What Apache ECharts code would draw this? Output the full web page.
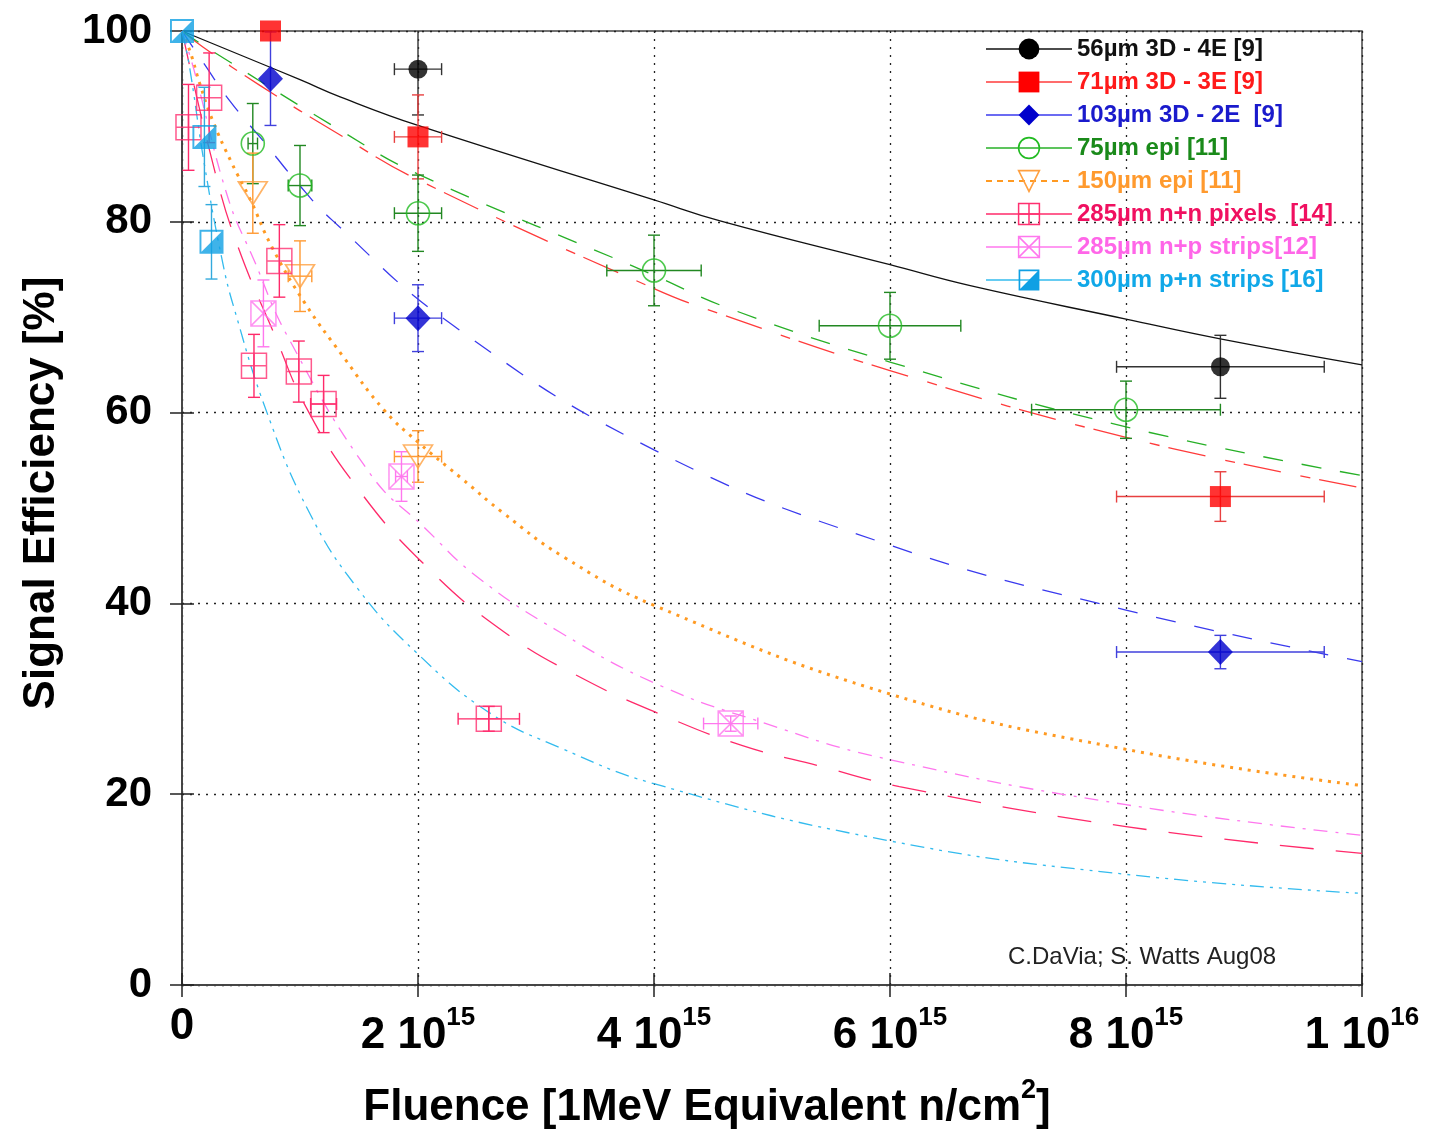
<!DOCTYPE html>
<html>
<head>
<meta charset="utf-8">
<title>Signal efficiency vs fluence</title>
<script src="https://cdn.jsdelivr.net/npm/echarts@6/dist/echarts.min.js"></script>
<style>
  html, body { margin: 0; padding: 0; background: #fff; }
  #chart { width: 1429px; height: 1129px; }
</style>
</head>
<body>
<div id="chart"></div>
<script>
// fluence is in units of 1e15 n/cm2, efficiency in %
const names = [
  '56µm 3D - 4E [9]',
  '71µm 3D - 3E [9]',
  '103µm 3D - 2E  [9]',
  '75µm epi [11]',
  '150µm epi [11]',
  '285µm n+n pixels  [14]',
  '285µm n+p strips[12]',
  '300µm p+n strips [16]'
]

// tick labels for the fluence axis: [mantissa, exponent]
const xTickLabels = [['0', ''], ['2 10', '15'], ['4 10', '15'], ['6 10', '15'], ['8 10', '15'], ['1 10', '16']]

// fit curves
const fit56 = [[0, 100], [1, 94.9], [1.34, 93.1], [2, 90.1], [4, 82.3], [4.56, 80.1], [6, 75.5], [6.68, 73.3], [8, 69.8], [8.81, 67.7], [10, 65]]
const fit71 = [[0, 100], [0.18, 98.3], [0.66, 94.3], [1.34, 89.1], [2, 84.4], [4, 73.0], [4.55, 70.4], [6, 64.4], [8, 57.4], [10, 52.1]]
const fit103 = [[0, 100], [0.18, 96.7], [0.41, 92.6], [0.7, 88.3], [0.97, 84.2], [1.27, 80.2], [2.29, 69.2], [4, 56.1], [6, 46.1], [8, 39.3], [10, 33.9]]
const fit75 = [[0, 100], [0.18, 98.5], [1.34, 89.6], [2, 85], [4, 74.4], [4.62, 71.0], [6, 65.3], [8, 58.5], [10, 53.4]]
const fit150 = [[0, 100], [0.07, 97.8], [0.15, 94.5], [0.26, 90.6], [0.42, 86.2], [0.58, 82.3], [0.76, 77.4], [1.04, 71.5], [1.37, 65.8], [1.71, 60.3], [2.0, 56.9], [2.36, 53.2], [2.72, 49.5], [3.23, 44.9], [4, 39.8], [6, 30.5], [8, 24.7], [10, 20.9]]
const fitNN = [[0, 100], [0.28, 85.2], [0.48, 77.2], [0.79, 68], [1.05, 60.6], [1.48, 52.2], [2.06, 44], [2.73, 37], [3.4, 32.1], [4.07, 28.3], [4.75, 25.1], [5.42, 22.9], [6.08, 20.8], [8, 16.6], [10, 13.8]]
const fitNP = [[0, 100], [0.1, 96], [0.39, 82.5], [0.61, 76], [0.89, 68.1], [1.6, 53.5], [2.05, 48], [2.5, 42.8], [3.2, 37], [4.05, 31.4], [4.95, 27.4], [5.9, 23.9], [8, 18.9], [10, 15.7]]
const fitPN = [[0, 100], [0.06, 96.5], [0.19, 86], [0.34, 76], [0.44, 71], [0.72, 60], [1.08, 49.5], [1.48, 41.7], [1.99, 34.8], [2.61, 28.5], [3.2, 24.9], [4, 21.1], [6, 15.1], [8, 11.6], [10, 9.6]]

// measurements: [fluence, efficiency, fluence error, efficiency error]
const pts56 = [[2.0, 96.0, 0.2, 4.8], [8.8, 64.8, 0.88, 3.3]]
const pts71 = [[0.75, 100, 0, 0], [2.0, 88.9, 0.2, 4.4], [8.8, 51.2, 0.88, 2.6]]
const pts103 = [[0.75, 95.0, 0, 4.9], [2.0, 69.9, 0.2, 3.5], [8.8, 34.9, 0.88, 1.75]]
const pts75 = [[0.6, 88.2, 0.04, 4.2], [1.0, 83.8, 0.1, 4.2], [2.0, 80.9, 0.2, 4.0], [4.0, 74.9, 0.4, 3.7], [6.0, 69.1, 0.6, 3.5], [8.0, 60.3, 0.8, 3.0]]
const pts150 = [[0.6, 83.0, 0, 4.2], [1.0, 74.3, 0.1, 3.7], [2.0, 55.4, 0.2, 2.7]]
const ptsNN = [[0.055, 89.9, 0, 4.5], [0.23, 93.0, 0, 4.7], [0.825, 75.9, 0, 3.8], [0.61, 64.9, 0, 3.3], [0.99, 64.3, 0, 3.2], [1.2, 60.9, 0.11, 3.0], [2.6, 27.9, 0.26, 1.3]]
const ptsNP = [[0.69, 70.4, 0, 3.5], [1.86, 53.3, 0.05, 2.6], [4.65, 27.4, 0.23, 0.8]]
const ptsPN = [[0, 100, 0, 0], [0.19, 88.9, 0, 5.2], [0.25, 77.9, 0, 3.9]]

const fits = [fit56, fit71, fit103, fit75, fit150, fitNN, fitNP, fitPN]
const pts = [pts56, pts71, pts103, pts75, pts150, ptsNN, ptsNP, ptsPN]

const FONT = 'Liberation Sans'
const CLEAR = 'rgba(0,0,0,0)'

// look of each data set
const looks = [
  { text: '#111111', line: { color: '#111', width: 1.3, type: 'solid' }, legendLine: 'solid', err: '#333',
    symbol: 'circle', size: 19, item: { color: '#000' } },
  { text: '#ff1a1a', line: { color: '#ff3b3b', width: 1.3, type: [38, 20, 10, 9] }, legendLine: 'solid', err: '#e84040',
    symbol: 'rect', size: 21, item: { color: '#ff0000' } },
  { text: '#1a1acc', line: { color: '#3a3aee', width: 1.3, type: [20, 19] }, legendLine: 'solid', err: '#4040dd',
    symbol: 'diamond', size: [25, 26], item: { color: '#0000cc' } },
  { text: '#1a8a1a', line: { color: '#27b027', width: 1.3, type: [20, 19] }, legendLine: 'solid', err: '#228822',
    symbol: 'circle', size: 23, item: { color: CLEAR, borderColor: '#22bb22', borderWidth: 1.6 } },
  { text: '#ff9a2e', line: { color: '#ff9a22', width: 3, type: [3, 6] }, legendLine: [6, 5], err: '#ff9a33',
    symbol: 'path://M0,0L20,0L10,16Z', size: [29, 23], item: { color: CLEAR, borderColor: '#ffa040', borderWidth: 1.6 } },
  { text: '#f01060', line: { color: '#ff2a6a', width: 1.3, type: [34, 22] }, legendLine: 'solid', err: '#ff2a6a',
    symbol: 'path://M0,0H20V20H0Z M10,0V20 M0,10H20', size: 25, item: { color: CLEAR, borderColor: '#ff3070', borderWidth: 1.5 } },
  { text: '#ff66e8', line: { color: '#ff77ee', width: 1.3, type: [14, 8, 3, 8] }, legendLine: 'solid', err: '#ff77ee',
    symbol: 'path://M0,0H20V20H0Z M0,0L20,20 M20,0L0,20', size: 25, item: { color: CLEAR, borderColor: '#ff77ee', borderWidth: 1.5 } },
  { text: '#10a8e8', line: { color: '#33bbee', width: 1.3, type: [14, 6, 3, 6, 3, 6] }, legendLine: 'solid', err: '#33aadd',
    symbol: 'path://M0,0H20V20H0Z M1.6,1.6V18.4H18.4V1.6Z M20,0L20,20L0,20Z', size: 24, item: { color: '#0fa0e4' } }
]

function errRender(color) {
  return function (params, api) {
    const x = api.value(0), y = api.value(1), dx = api.value(2), dy = api.value(3)
    const st = { stroke: color, lineWidth: 1.4 }
    const cap = 6
    const kids = []
    const seg = (x1, y1, x2, y2) => kids.push({ type: 'line', shape: { x1, y1, x2, y2 }, style: st })
    if (dy > 0) {
      const a = api.coord([x, y + dy]), b = api.coord([x, y - dy])
      seg(a[0], a[1], b[0], b[1])
      seg(a[0] - cap, a[1], a[0] + cap, a[1])
      seg(b[0] - cap, b[1], b[0] + cap, b[1])
    }
    if (dx > 0) {
      const a = api.coord([x - dx, y]), b = api.coord([x + dx, y])
      seg(a[0], a[1], b[0], b[1])
      seg(a[0], a[1] - cap, a[0], a[1] + cap)
      seg(b[0], b[1] - cap, b[0], b[1] + cap)
    }
    return { type: 'group', children: kids }
  }
}

const series = []
names.forEach((name, i) => {
  const lk = looks[i]
  series.push({
    name: name,
    type: 'line',
    data: fits[i],
    smooth: 0.45,
    showSymbol: false,
    symbol: lk.symbol,
    symbolSize: lk.size,
    itemStyle: lk.item,
    lineStyle: lk.line,
    silent: true,
    z: 3
  })
})
names.forEach((name, i) => {
  const lk = looks[i]
  series.push({
    type: 'custom',
    data: pts[i],
    encode: { x: 0, y: 1 },
    renderItem: errRender(lk.err),
    clip: true,
    silent: true,
    z: 4
  })
  series.push({
    type: 'scatter',
    data: pts[i].map(p => [p[0], p[1]]),
    symbol: lk.symbol,
    symbolSize: lk.size,
    itemStyle: lk.item,
    clip: false,
    silent: true,
    z: 5
  })
})

const chart = echarts.init(document.getElementById('chart'), null, { renderer: 'canvas' })
chart.setOption({
  animation: false,
  backgroundColor: '#ffffff',
  textStyle: { fontFamily: FONT },
  grid: {
    left: 182, right: 67, top: 31, bottom: 144,
    show: true, borderColor: '#444', borderWidth: 1.5,
    outerBoundsMode: 'none'
  },
  graphic: [{
    type: 'text', left: 1008, top: 945,
    style: { text: 'C.DaVia; S. Watts Aug08', font: '24px "Liberation Sans"', fill: '#222' }
  }],
  legend: {
    orient: 'vertical',
    left: 985, top: 37, padding: 0,
    itemWidth: 86, itemHeight: 26, itemGap: 9,
    selectedMode: false,
    data: names.map((n, i) => ({
      name: n,
      itemStyle: looks[i].item,
      lineStyle: { color: looks[i].line.color, width: i === 4 ? 2 : 1.3, type: looks[i].legendLine },
      textStyle: { color: looks[i].text }
    })),
    textStyle: { fontFamily: FONT, fontSize: 24, fontWeight: 'bold' }
  },
  xAxis: [{
    type: 'value', min: 0, max: 10, interval: 2,
    name: '{a|Fluence [1MeV Equivalent n/cm}{s|2}{a|]}',
    nameLocation: 'middle', nameGap: 92,
    nameTextStyle: {
      padding: [0, 130, 0, 0],
      rich: {
        a: { fontFamily: FONT, fontSize: 44, fontWeight: 'bold', color: '#000' },
        s: { fontFamily: FONT, fontSize: 27, fontWeight: 'bold', color: '#000', padding: [0, 0, 34, 0] }
      }
    },
    axisLine: { show: true, lineStyle: { color: '#444', width: 1.5 } },
    axisTick: { show: true, inside: true, length: 12, lineStyle: { color: '#222', width: 1.5 } },
    axisLabel: {
      margin: 20,
      formatter: v => {
        const t = xTickLabels[Math.round(v / 2)]
        return t[1] ? '{n|' + t[0] + '}{s|' + t[1] + '}' : '{n|' + t[0] + '}'
      },
      rich: {
        n: { fontFamily: FONT, fontSize: 44, fontWeight: 'bold', color: '#000' },
        s: { fontFamily: FONT, fontSize: 26, fontWeight: 'bold', color: '#000', padding: [0, 0, 36, 0] }
      }
    },
    splitLine: { show: true, lineStyle: { color: '#222', width: 1.3, type: [2, 6] } }
  }, {
    type: 'value', min: 0, max: 10, interval: 2, position: 'top',
    axisLine: { show: true, lineStyle: { color: '#444', width: 1.5 } },
    axisTick: { show: true, inside: true, length: 12, lineStyle: { color: '#222', width: 1.5 } },
    axisLabel: { show: false }, splitLine: { show: false }
  }],
  yAxis: [{
    type: 'value', min: 0, max: 100, interval: 20,
    name: 'Signal Efficiency [%]',
    nameLocation: 'middle', nameGap: 118, nameRotate: 90,
    nameTextStyle: { fontFamily: FONT, fontSize: 44, fontWeight: 'bold', color: '#000', padding: [0, 0, 0, 30] },
    axisLine: { show: true, lineStyle: { color: '#444', width: 1.5 } },
    axisTick: { show: true, inside: true, length: 12, lineStyle: { color: '#222', width: 1.5 } },
    axisLabel: { margin: 30, fontFamily: FONT, fontSize: 42, fontWeight: 'bold', color: '#000' },
    splitLine: { show: true, lineStyle: { color: '#222', width: 1.3, type: [2, 6] } }
  }, {
    type: 'value', min: 0, max: 100, interval: 20, position: 'right',
    axisLine: { show: true, lineStyle: { color: '#444', width: 1.5 } },
    axisTick: { show: true, inside: true, length: 12, lineStyle: { color: '#222', width: 1.5 } },
    axisLabel: { show: false }, splitLine: { show: false }
  }],
  series: series
})
</script>
</body>
</html>
